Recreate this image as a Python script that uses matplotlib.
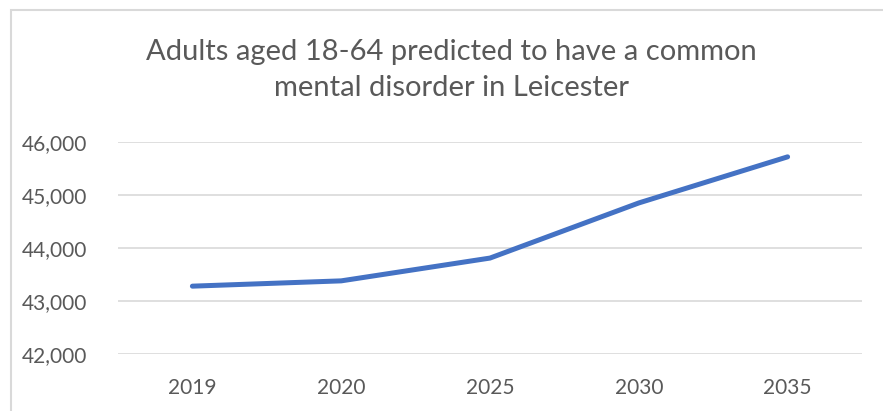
import matplotlib.pyplot as plt
import matplotlib.patches as patches
from matplotlib.ticker import FuncFormatter

# Data
years = ['2019', '2020', '2025', '2030', '2035']
adults = [43280, 43380, 43810, 44850, 45720]
y_ticks = [42000, 43000, 44000, 45000, 46000]

plt.rcParams['font.family'] = ['Lato', 'DejaVu Sans']

W, H = 883, 411
fig = plt.figure(figsize=(W / 100, H / 100), dpi=100)

# chart border (Excel-style frame), clipped by the image edges
fig.patches.append(patches.Rectangle((11 / W, -0.1), 1.2, 1 - 10 / H + 0.1,
                                     transform=fig.transFigure, fill=False,
                                     edgecolor='#D9D9D9', linewidth=1.5))

ax = fig.add_axes([118 / W, 1 - 354 / H, (862 - 118) / W, (354 - 142) / H])
x = range(len(years))
ax.plot(x, adults, color='#4472C4', linewidth=3.6, solid_capstyle='round',
        solid_joinstyle='round', zorder=3)

ax.set_xlim(-0.5, len(years) - 0.5)
ax.set_ylim(y_ticks[0], y_ticks[-1])
ax.set_yticks(y_ticks)
ax.yaxis.set_major_formatter(FuncFormatter(lambda v, p: f'{int(v):,}'))
ax.set_xticks(list(x))
ax.set_xticklabels(years)
ax.grid(axis='y', color='#D9D9D9', linewidth=1.2)
ax.set_axisbelow(True)
for s in ax.spines.values():
    s.set_visible(False)
ax.tick_params(length=0, labelsize=15, colors='#595959')
ax.tick_params(axis='y', pad=22)
ax.tick_params(axis='x', pad=17)

fig.text(451 / W, 1 - 70 / H, 'Adults aged 18-64 predicted to have a common\nmental disorder in Leicester',
         ha='center', va='center', fontsize=21, color='#595959', linespacing=1.5)

fig.savefig('out.png', dpi=100)
